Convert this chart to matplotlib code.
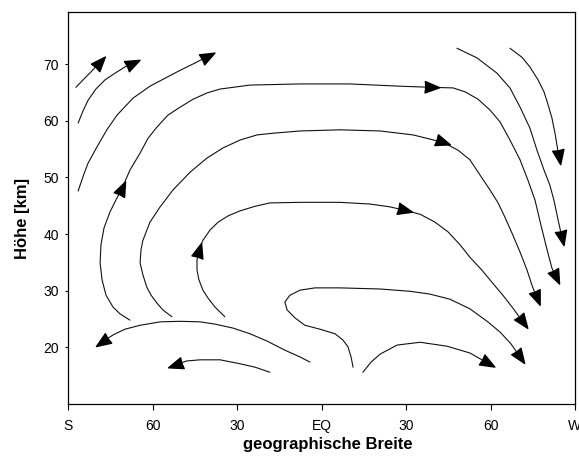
import numpy as np
import matplotlib
matplotlib.use("Agg")
import matplotlib.pyplot as plt
from matplotlib.markers import MarkerStyle
from matplotlib.path import Path
from matplotlib.transforms import Affine2D

plt.rcParams['font.family'] = ['Liberation Sans', 'DejaVu Sans']

# Achsen
x_ticks = [-90, -60, -30, 0, 30, 60, 90]
x_labels = ['S', '60', '30', 'EQ', '30', '60', 'W']
y_ticks = [20, 30, 40, 50, 60, 70]

# Stromlinien: Breite (Grad, S negativ), Hoehe (km), Indizes der Pfeilspitzen
s1_lat = [-87.2, -84.3, -81.5, -78.6]
s1_alt = [65.9, 67.4, 68.8, 70.4]
s1_arr = [3]

s2_lat = [-86.4, -84.7, -82.9, -80.1, -76.9, -73.3, -69.8, -66.9]
s2_alt = [59.6, 61.7, 63.6, 65.6, 67.2, 68.4, 69.5, 70.2]
s2_arr = [7]

s3_lat = [-86.4, -84.7, -82.9, -79.7, -76.2, -72.6, -66.9, -60.9, -55.6, -50.2, -44.9, -40.3]
s3_alt = [47.6, 50.1, 52.5, 55.4, 58.4, 61.0, 64.0, 66.1, 67.5, 68.9, 70.2, 71.4]
s3_arr = [11]

s4_lat = [-68.0, -71.5, -74.0, -76.5, -77.9, -78.6, -78.3, -77.2, -75.1, -73.0,
          -70.8, -68.0, -64.4, -61.6, -58.4, -54.5, -50.2, -45.6, -40.7, -36.0,
          -31.4, -25.4, -7.6, 10.1, 27.9, 39.2, 46.7, 51.0, 55.6, 59.8,
          63.4, 66.9, 70.5, 73.3, 75.8, 77.9, 80.1, 81.8, 83.3]
s4_alt = [24.8, 25.9, 27.1, 29.2, 31.9, 34.9, 38.1, 41.1, 43.9, 46.0,
          48.1, 51.3, 54.3, 56.9, 58.9, 61.0, 62.4, 63.8, 64.9, 65.6,
          65.9, 66.3, 66.5, 66.5, 66.1, 65.9, 65.8, 65.1, 63.8, 61.9,
          59.8, 56.6, 53.1, 49.5, 46.0, 41.6, 37.2, 34.0, 32.4]
s4_arr = [10, 25, 38]

s5_lat = [-53.1, -56.3, -58.4, -60.5, -62.0, -63.4, -64.4, -64.1, -63.4, -60.9,
          -57.3, -52.7, -46.7, -40.7, -35.0, -28.9, -22.9, -17.2, -7.6, 6.6,
          20.8, 32.5, 43.1, 48.5, 52.7, 56.3, 59.8, 62.7, 65.1, 67.6,
          70.5, 73.0, 74.7, 76.5]
s5_alt = [25.4, 26.6, 27.8, 29.2, 30.6, 32.8, 34.9, 37.2, 38.9, 42.1,
          44.8, 47.8, 50.9, 53.4, 55.2, 56.6, 57.5, 57.8, 58.2, 58.4,
          58.2, 57.5, 56.2, 54.8, 53.1, 50.4, 47.8, 45.5, 43.0, 40.2,
          36.8, 33.6, 31.0, 28.7]
s5_arr = [22, 33]

s6_lat = [-34.3, -37.8, -40.3, -42.1, -43.5, -44.2, -44.2, -43.5, -42.1, -39.6,
          -36.7, -33.2, -28.9, -23.6, -18.3, -7.6, 6.6, 17.2, 24.3, 29.6,
          35.0, 40.3, 44.9, 49.2, 52.7, 57.0, 60.5, 64.4, 68.0, 71.5]
s6_alt = [25.4, 27.1, 28.7, 30.1, 31.9, 33.6, 35.4, 37.2, 38.9, 40.7,
          42.1, 43.2, 44.1, 44.9, 45.5, 45.6, 45.6, 45.3, 44.8, 44.2,
          43.5, 42.1, 40.4, 38.1, 35.9, 33.6, 31.5, 29.2, 26.9, 24.5]
s6_arr = [7, 19, 29]

s7_lat = [11.2, 10.5, 9.4, 7.6, 4.8, -0.5, -5.9, -9.4, -12.2, -13.0, -11.2, -7.6,
          -2.3, 6.6, 20.8, 31.4, 38.5, 45.6, 52.7, 58.8, 63.4, 67.3, 70.5]
s7_alt = [16.5, 18.3, 20.1, 21.3, 22.4, 23.2, 23.9, 25.2, 26.6, 28.0, 29.2, 30.1,
          30.5, 30.5, 30.3, 29.9, 29.4, 28.5, 26.8, 24.6, 22.7, 20.6, 18.3]
s7_arr = [22]

s8_lat = [14.7, 17.6, 20.8, 26.8, 35.0, 44.6, 52.7, 59.1]
s8_alt = [15.6, 17.4, 18.8, 20.4, 20.9, 20.2, 19.0, 17.2]
s8_arr = [7]

s9_lat = [-4.1, -7.6, -13.0, -19.3, -25.4, -31.4, -37.8, -43.1, -50.2, -57.3,
          -64.4, -69.8, -74.0, -77.9]
s9_alt = [17.4, 18.3, 19.5, 21.1, 22.4, 23.4, 24.1, 24.5, 24.6, 24.5,
          23.9, 23.2, 22.2, 20.9]
s9_arr = [13]

s10_lat = [-18.3, -23.6, -28.9, -36.0, -43.1, -47.8, -52.0]
s10_alt = [15.6, 16.5, 17.1, 17.8, 17.8, 17.6, 16.9]
s10_arr = [6]

s11_lat = [66.9, 71.2, 74.0, 76.9, 79.0, 80.4, 81.8, 82.9, 83.6, 84.3]
s11_alt = [72.8, 71.2, 69.5, 67.2, 65.1, 62.9, 60.5, 57.8, 55.7, 53.6]
s11_arr = [9]

s12_lat = [48.1, 55.2, 62.3, 66.9, 70.5, 74.0, 76.5, 79.0, 81.1, 82.5, 84.0, 85.4]
s12_alt = [72.8, 71.1, 68.4, 65.8, 62.4, 58.7, 54.8, 51.3, 48.6, 46.0, 42.5, 39.3]
s12_arr = [11]

streams = [
    (s1_lat, s1_alt, s1_arr), (s2_lat, s2_alt, s2_arr), (s3_lat, s3_alt, s3_arr),
    (s4_lat, s4_alt, s4_arr), (s5_lat, s5_alt, s5_arr), (s6_lat, s6_alt, s6_arr),
    (s7_lat, s7_alt, s7_arr), (s8_lat, s8_alt, s8_arr), (s9_lat, s9_alt, s9_arr),
    (s10_lat, s10_alt, s10_arr), (s11_lat, s11_alt, s11_arr), (s12_lat, s12_alt, s12_arr),
]

fig = plt.figure(figsize=(5.79, 4.65), dpi=100)
ax = fig.add_axes([68 / 579, 1 - 404 / 465, 507 / 579, 392 / 465])
ax.set_xlim(-90, 90)
ax.set_ylim(10, 79.2)

head = Path([(1, 0), (-1, 0.78), (-0.92, 0), (-1, -0.78), (1, 0)],
            [Path.MOVETO, Path.LINETO, Path.LINETO, Path.LINETO, Path.CLOSEPOLY])


def arrow_head(lat, alt, i):
    # Richtung in Bildschirmkoordinaten
    j0 = max(i - 1, 0)
    j1 = min(i + 1, len(lat) - 1)
    a, b = ax.transData.transform([(lat[j0], alt[j0]), (lat[j1], alt[j1])])
    ang = np.degrees(np.arctan2(b[1] - a[1], b[0] - a[0]))
    m = MarkerStyle(head, transform=Affine2D().rotate_deg(ang))
    ax.plot(lat[i], alt[i], marker=m, ms=10.5, color='black', mec='black', mew=1.0, ls='none')


for lat, alt, arr in streams:
    ax.plot(lat, alt, color='#111111', lw=0.8, solid_capstyle='round', solid_joinstyle='round')
    for i in arr:
        arrow_head(lat, alt, i)

ax.set_xticks(x_ticks)
ax.set_xticklabels(x_labels)
ax.set_yticks(y_ticks)
ax.tick_params(axis='x', length=4, pad=7, labelsize=10, width=0.8)
ax.tick_params(axis='y', length=2.5, pad=4, labelsize=10, width=0.8)
for sp in ax.spines.values():
    sp.set_linewidth(0.9)
    sp.set_color('black')

ax.set_xlabel('geographische Breite', fontsize=12, fontweight='bold')
ax.set_ylabel('Höhe [km]', fontsize=12, fontweight='bold')
ax.xaxis.set_label_coords(0.513, -0.083)
ax.yaxis.set_label_coords(-0.074, 0.472)

fig.savefig('out.png', dpi=100)
